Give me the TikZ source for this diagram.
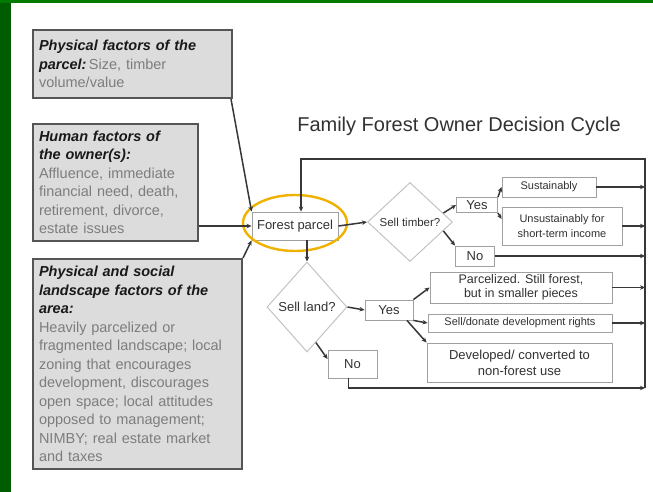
\documentclass[tikz,border=0pt]{standalone}
\usepackage{fontspec}
\setmainfont{Liberation Sans}
\usetikzlibrary{shapes.geometric,arrows.meta}
\definecolor{leftg}{RGB}{0,92,0}
\definecolor{topg}{RGB}{0,122,0}
\definecolor{connc}{RGB}{55,55,55}
\definecolor{lboxedge}{RGB}{85,85,85}
\definecolor{lboxfill}{RGB}{220,220,220}
\definecolor{bodyc}{RGB}{125,125,125}
\definecolor{hdc}{RGB}{25,25,25}
\definecolor{rboxedge}{RGB}{160,160,160}
\definecolor{diaedge}{RGB}{195,195,195}
\definecolor{textc}{RGB}{50,50,50}
\definecolor{ringc}{RGB}{240,178,0}
\newcommand\hd[1]{{\bfseries\itshape\color{hdc}#1}}
\tikzset{
  conn/.style={draw=connc, line width=1.5pt},
  arr/.style={-{Stealth[length=5pt,width=4.5pt]}},
  lbox/.style={draw=lboxedge, line width=2pt, fill=lboxfill, anchor=north west,
    inner xsep=6pt, inner ysep=0pt, align=left,
    font=\fontsize{14.5}{18.5}\selectfont, text=bodyc},
  rbox/.style={draw=rboxedge, line width=0.9pt, fill=white, inner sep=0pt,
    align=center, text=textc},
  dia/.style={diamond, draw=diaedge, line width=1pt, inner sep=0pt, text=textc},
}
\begin{document}
\begin{tikzpicture}[x=1pt,y=-1pt]
\useasboundingbox (0,0) rectangle (653,492);
\fill[white] (0,0) rectangle (653,492);
\fill[leftg] (0,0) rectangle (11,492);
\fill[topg] (0,0) rectangle (653,3);

% left factor boxes
\node[lbox, text width=187pt, minimum height=68pt] (pf) at (32,29)
  {\hd{Physical factors of the}\\\hd{parcel:}\,Size, timber\\volume/value};
\node[lbox, text width=153pt, minimum height=117pt] (hf) at (32,123)
  {\hd{Human factors of}\\\hd{the owner(s):}\\Affluence, immediate\\financial need, death,\\retirement, divorce,\\estate issues};
\node[lbox, text width=197pt, minimum height=210pt] (pl) at (32,258)
  {\hd{Physical and social}\\\hd{landscape factors of the}\\\hd{area:}\\Heavily parcelized or\\fragmented landscape; local\\zoning that encourages\\development, discourages\\open space; local attitudes\\opposed to management;\\NIMBY; real estate market\\and taxes};

% title
\node[text=textc, font=\fontsize{20}{24}\selectfont] (title) at (459,126) {Family Forest Owner Decision Cycle};

% flow nodes
\node[rbox, minimum width=86pt, minimum height=28pt, font=\fontsize{13}{15}\selectfont] (fp) at (295,226) {Forest parcel};
\draw[ringc, line width=2.4pt] (295,223) ellipse [x radius=52, y radius=28];

\node[dia, minimum width=85pt, minimum height=79pt, font=\fontsize{11.5}{13}\selectfont] (st) at (410,222) {Sell timber?};
\node[dia, minimum width=80pt, minimum height=90pt, font=\fontsize{13}{15}\selectfont] (sl) at (307,307) {Sell land?};

\node[rbox, minimum width=41pt, minimum height=15pt, font=\fontsize{13}{15}\selectfont] (ty) at (477,205) {Yes};
\node[rbox, minimum width=94pt, minimum height=20pt, font=\fontsize{11}{13}\selectfont] (sus) at (549,187) {Sustainably};
\node[rbox, minimum width=120pt, minimum height=38pt, font=\fontsize{11}{15}\selectfont] (uns) at (562,226) {Unsustainably for\\short-term income};
\node[rbox, minimum width=39pt, minimum height=20pt, font=\fontsize{13}{15}\selectfont] (tn) at (475,256) {No};

\node[rbox, minimum width=48pt, minimum height=20pt, font=\fontsize{13}{15}\selectfont] (ly) at (389,310) {Yes};
\node[rbox, minimum width=182pt, minimum height=31pt, font=\fontsize{12.5}{14}\selectfont] (par) at (521,287.5) {Parcelized. Still forest,\\but in smaller pieces};
\node[rbox, minimum width=184pt, minimum height=18pt, font=\fontsize{11}{13}\selectfont] (sd) at (520,323) {Sell/donate development rights};
\node[rbox, minimum width=185pt, minimum height=39pt, font=\fontsize{13}{16}\selectfont] (dev) at (519.5,362.5) {Developed/ converted to\\non-forest use};
\node[rbox, minimum width=49pt, minimum height=28pt, font=\fontsize{13}{15}\selectfont] (ln) at (352.5,364) {No};

% loop corners
\coordinate (rtop) at (645,159);
\coordinate (rbot) at (645,388);
\coordinate (ltop) at (301,159);

% inputs to forest parcel
\draw[conn, arr] ([xshift=-2pt]pf.south east) -- (fp.north west);
\draw[conn, arr] (hf.east |- fp.west) -- (fp.west);
\draw[conn, arr] (pl.north east) -- (fp.south west);

% decisions
\draw[conn, arr] (fp.east) -- (st.west);
\draw[conn, arr] (sl.north |- fp.south) -- (sl.north);
\draw[conn, arr] (st.15) -- (ty.west);
\draw[conn, arr] (st.-15) -- (tn.north west);
\draw[conn, arr] (ty.north east) -- (sus.west);
\draw[conn, arr] (ty.south east) -- ([yshift=7pt]uns.west);
\draw[conn, arr] (sl.east) -- (ly.west);
\draw[conn, arr] (ly.north east) -- (par.west);
\draw[conn, arr] (ly.south east) -- (sd.west);
\draw[conn, arr] ([xshift=18pt]ly.south) -- (dev.north west);
\draw[conn, arr] (sl.-76) -- ([yshift=5pt]ln.west);

% outcomes to the return line
\draw[conn, arr] (sus.east) -- (sus.east -| rtop);
\draw[conn, arr] (uns.east) -- (uns.east -| rtop);
\draw[conn, arr] (tn.east) -- (tn.east -| rtop);
\draw[conn, arr] (par.east) -- (par.east -| rtop);
\draw[conn, arr] (sd.east) -- (sd.east -| rtop);
\draw[conn, arr] ([xshift=-4pt]ln.south) |- (rbot);

% return loop
\draw[conn, arr] (rbot) -- (rtop) -- (ltop) -- (ltop |- fp.north);
\end{tikzpicture}
\end{document}
